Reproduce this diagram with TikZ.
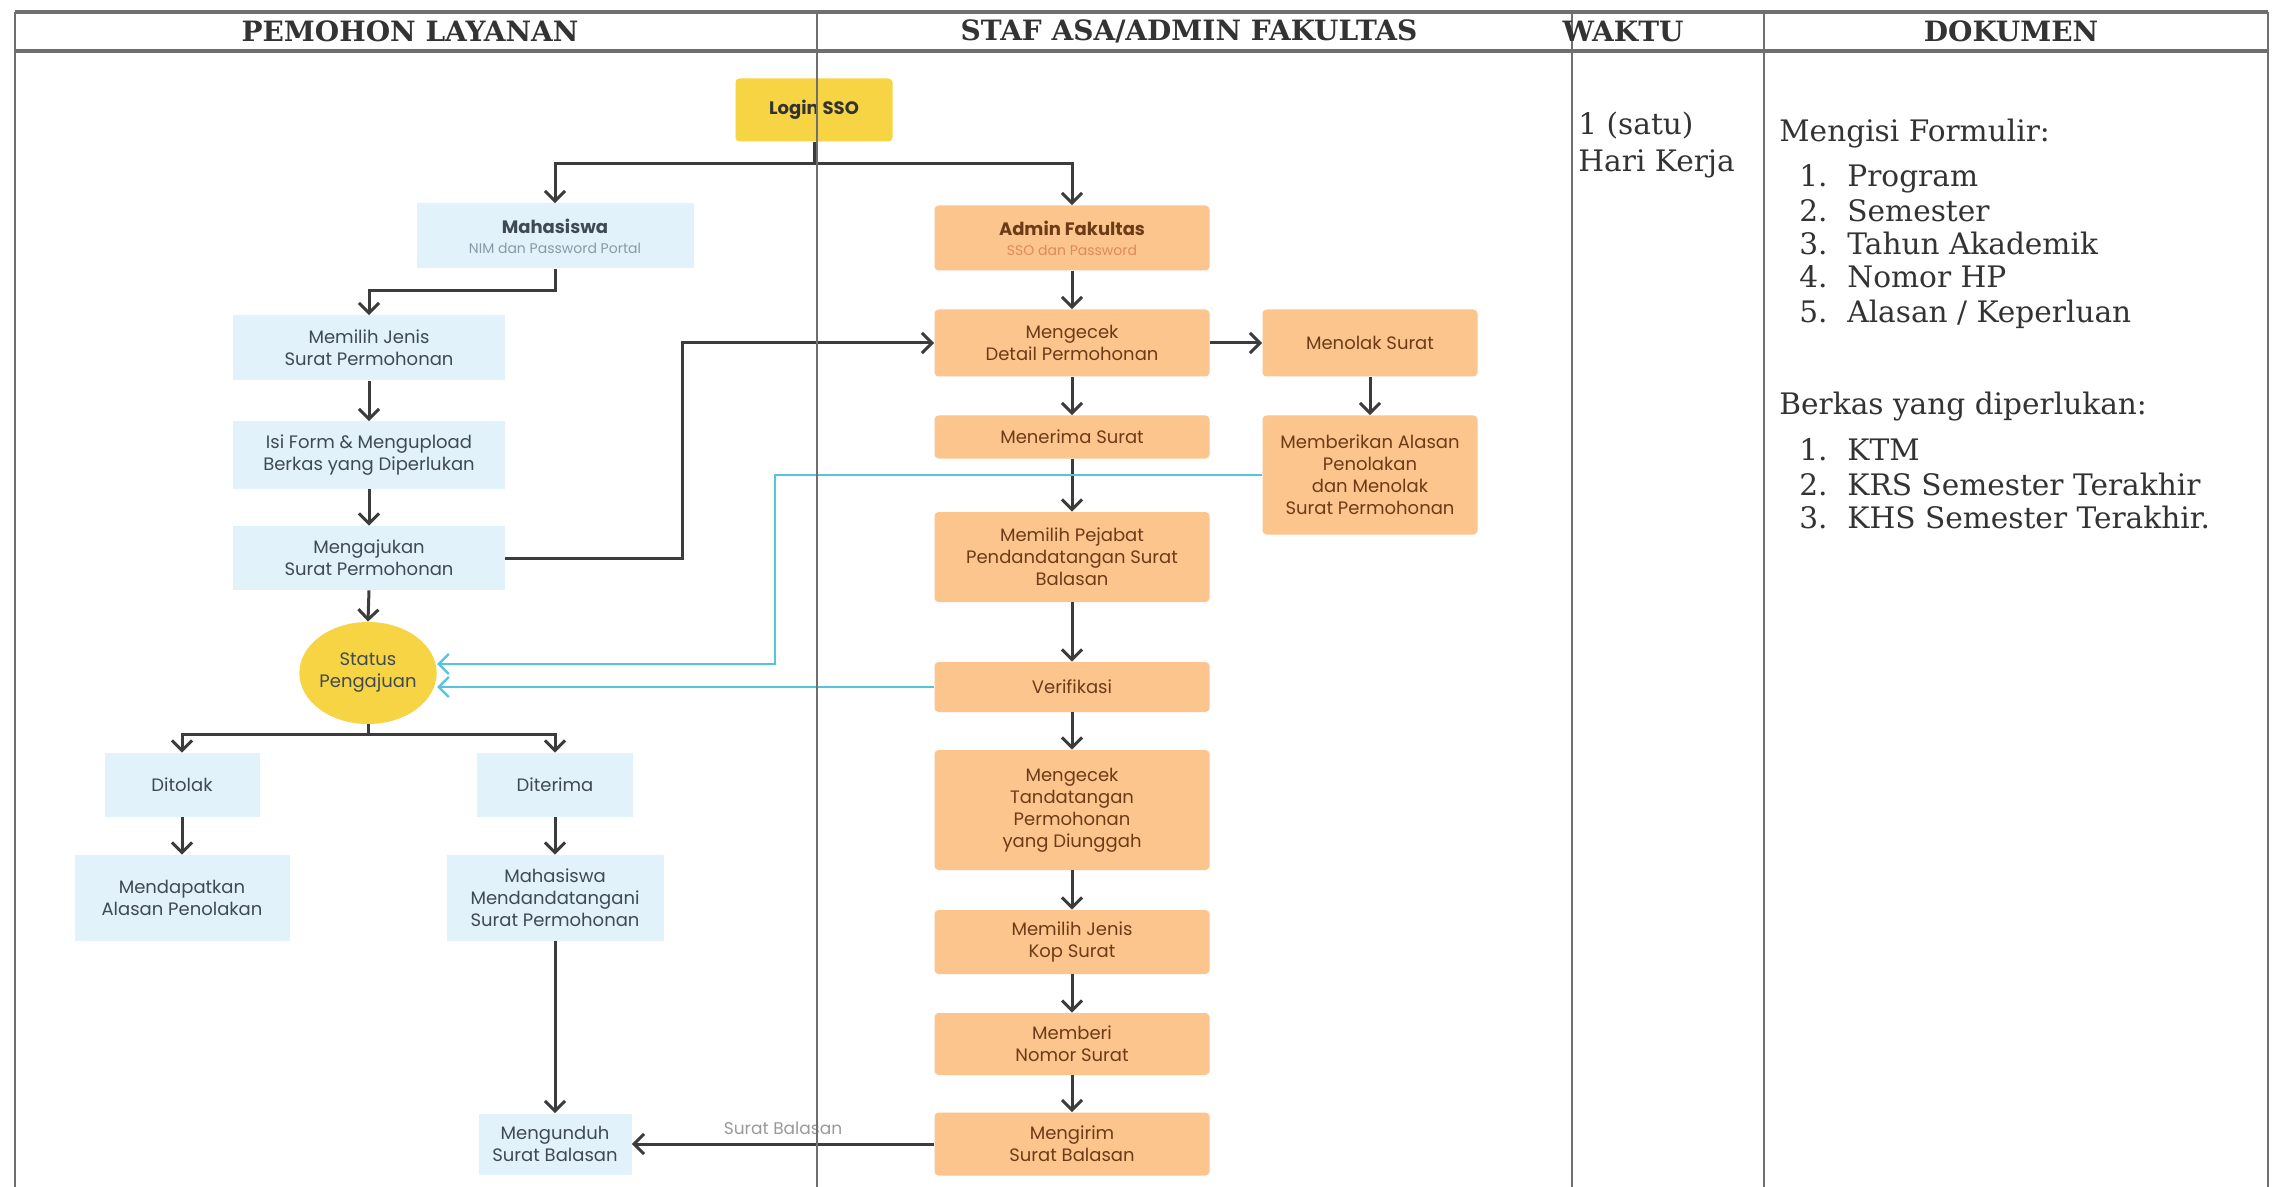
\documentclass[tikz,border=0pt]{standalone}
\usepackage{fontspec}
\setmainfont{DejaVu Serif}
\newfontfamily\pop{Poppins}
\usetikzlibrary{arrows.meta,shapes.geometric}
\definecolor{bluefill}{HTML}{E1F2FA}
\definecolor{orangefill}{HTML}{FBC58D}
\definecolor{yellowfill}{HTML}{F7D444}
\definecolor{orangetext}{HTML}{6E3B17}
\definecolor{bluetext}{HTML}{3F4A52}
\definecolor{subgray}{HTML}{8A9AA4}
\definecolor{suborange}{HTML}{E0895A}
\definecolor{arrowc}{HTML}{3C3C3C}
\definecolor{cyanc}{HTML}{55C5DE}
\definecolor{gridc}{HTML}{6F6F6F}
\definecolor{textc}{HTML}{333333}
\definecolor{lblc}{HTML}{9A9A9A}
\tikzset{
  sz/.style 2 args={minimum width=#1*0.5pt, minimum height=#2*0.5pt},
  nodebase/.style={inner sep=0pt, align=center, font=\pop\fontsize{9}{11}\selectfont},
  bluebox/.style={nodebase, fill=bluefill, text=bluetext},
  orangebox/.style={nodebase, fill=orangefill, text=orangetext, rounded corners=2pt},
  yellowbox/.style={nodebase, fill=yellowfill, text=textc, rounded corners=2pt},
  statusnode/.style={nodebase, ellipse, fill=yellowfill, text=bluetext},
  ln/.style={draw=arrowc, line width=1.5pt},
  arr/.style={ln, -{Straight Barb[length=5pt,width=10pt]}},
  carr/.style={draw=cyanc, line width=1.2pt, -{Straight Barb[length=5pt,width=10pt]}},
  lbl/.style={font=\pop\fontsize{8.5}{10}\selectfont, text=lblc, inner sep=1pt},
  headtxt/.style={font=\bfseries\fontsize{14}{16}\selectfont, text=textc, inner sep=0pt},
  doctxt/.style={font=\fontsize{14.8}{17}\selectfont, text=textc, inner sep=0pt, anchor=base west},
  gridthin/.style={draw=gridc, line width=0.8pt},
  gridthick/.style={draw=gridc, line width=1.6pt}
}
\begin{document}
\begin{tikzpicture}[x=0.5pt,y=-0.5pt]
\useasboundingbox (0,0) rectangle (2280,1187);
\fill[white] (0,0) rectangle (2280,1187);

% --- Pemohon layanan column ---
\node[yellowbox, sz={157}{63}] (login) at (814,110) {\bfseries Login SSO};
\node[bluebox, sz={277}{65}] (maha) at (555,236) {{\bfseries Mahasiswa}\\[-1pt]{\fontsize{7}{8}\selectfont\color{subgray}NIM dan Password Portal}};
\node[bluebox, sz={272}{65}] (pilih) at (369,348) {Memilih Jenis\\Surat Permohonan};
\node[bluebox, sz={272}{67}] (isi) at (369,455) {Isi Form \& Mengupload\\Berkas yang Diperlukan};
\node[bluebox, sz={272}{64}] (ajukan) at (369,558) {Mengajukan\\Surat Permohonan};
\node[statusnode, sz={132}{102}] (status) at (368,673) {Status\\Pengajuan};
\node[bluebox, sz={155}{64}] (tolak) at (182,785) {Ditolak};
\node[bluebox, sz={156}{64}] (terima) at (555,785) {Diterima};
\node[bluebox, sz={215}{86}] (alasanp) at (182,898) {Mendapatkan\\Alasan Penolakan};
\node[bluebox, sz={217}{86}] (ttdmhs) at (555,898) {Mahasiswa\\Mendandatangani\\Surat Permohonan};
\node[bluebox, sz={153}{61}] (unduh) at (555,1144) {Mengunduh\\Surat Balasan};

% --- Staf column ---
\node[orangebox, sz={275}{65}] (admin) at (1072,238) {{\bfseries Admin Fakultas}\\[-1pt]{\fontsize{7}{8}\selectfont\color{suborange}SSO dan Password}};
\node[orangebox, sz={275}{67}] (cek) at (1072,343) {Mengecek\\Detail Permohonan};
\node[orangebox, sz={215}{67}] (tolaksurat) at (1370,343) {Menolak Surat};
\node[orangebox, sz={215}{119}] (alasan) at (1370,475) {Memberikan Alasan\\Penolakan\\dan Menolak\\Surat Permohonan};
\node[orangebox, sz={275}{43}] (terimasurat) at (1072,437) {Menerima Surat};
\node[orangebox, sz={275}{90}] (pejabat) at (1072,557) {Memilih Pejabat\\Pendandatangan Surat\\Balasan};
\node[orangebox, sz={275}{50}] (verif) at (1072,687) {Verifikasi};
\node[orangebox, sz={275}{120}] (ttd) at (1072,810) {Mengecek\\Tandatangan\\Permohonan\\yang Diunggah};
\node[orangebox, sz={275}{64}] (kop) at (1072,942) {Memilih Jenis\\Kop Surat};
\node[orangebox, sz={275}{62}] (nomor) at (1072,1044) {Memberi\\Nomor Surat};
\node[orangebox, sz={275}{63}] (kirim) at (1072,1144) {Mengirim\\Surat Balasan};

% --- connectors ---
\coordinate (j1) at (814,164);
\draw[ln] (login.south) -- (j1);
\draw[arr] (j1) -| (maha.north);
\draw[arr] (j1) -| (admin.north);
\draw[arr] (maha.south) -- ++(0,22) -| (pilih.north);
\draw[arr] (pilih.south) -- (isi.north);
\draw[arr] (isi.south) -- (ajukan.north);
\draw[arr] (ajukan.south) -- (status.north);
\coordinate (j2) at (682,343);
\draw[arr] (ajukan.east) -| (j2) -- (cek.west);
\draw[arr] (admin.south) -- (cek.north);
\draw[arr] (cek.east) -- (tolaksurat.west);
\draw[arr] (tolaksurat.south) -- (alasan.north);
\draw[arr] (cek.south) -- (terimasurat.north);
\draw[arr] (terimasurat.south) -- (pejabat.north);
\draw[arr] (pejabat.south) -- (verif.north);
\draw[arr] (verif.south) -- (ttd.north);
\draw[arr] (ttd.south) -- (kop.north);
\draw[arr] (kop.south) -- (nomor.north);
\draw[arr] (nomor.south) -- (kirim.north);
\coordinate (c1) at (775,664);
\draw[carr] (alasan.west) -| (c1) -- (c1 -| status.east);
\draw[carr] (verif.west) -- (verif.west -| status.east);
\coordinate (j3) at (368,734);
\draw[ln] (status.south) -- (j3);
\draw[arr] (j3) -| (tolak.north);
\draw[arr] (j3) -| (terima.north);
\draw[arr] (tolak.south) -- (alasanp.north);
\draw[arr] (terima.south) -- (ttdmhs.north);
\draw[arr] (ttdmhs.south) -- (unduh.north);
\draw[arr] (kirim.west) -- node[lbl, above=3pt] (lblsb) {Surat Balasan} (unduh.east);

% --- right columns text ---
\node[doctxt] (w1) at (1578,135) {1 (satu)};
\node[doctxt] (w2) at (1578,172) {Hari Kerja};
\node[doctxt] (d1) at (1779,142) {Mengisi Formulir:};
\node[doctxt] (d1a) at (1799,187) {\makebox[24pt][l]{1.}Program};
\node[doctxt] (d1b) at (1799,222) {\makebox[24pt][l]{2.}Semester};
\node[doctxt] (d1c) at (1799,255) {\makebox[24pt][l]{3.}Tahun Akademik};
\node[doctxt] (d1d) at (1799,288) {\makebox[24pt][l]{4.}Nomor HP};
\node[doctxt] (d1e) at (1799,323) {\makebox[24pt][l]{5.}Alasan / Keperluan};
\node[doctxt] (d2) at (1779,415) {Berkas yang diperlukan:};
\node[doctxt] (d2a) at (1799,460) {\makebox[24pt][l]{1.}KTM};
\node[doctxt] (d2b) at (1799,495) {\makebox[24pt][l]{2.}KRS Semester Terakhir};
\node[doctxt] (d2c) at (1799,528) {\makebox[24pt][l]{3.}KHS Semester Terakhir.};

% --- table grid ---
\draw[gridthick] (15,12) -- (2268,12);
\draw[gridthick] (15,51) -- (2268,51);
\foreach \gx in {15,817,1572,1764,2268} {\draw[gridthin] (\gx,12) -- (\gx,1187);}
\node[headtxt] (h1) at (410,31) {PEMOHON LAYANAN};
\node[headtxt] (h2) at (1189,31) {STAF ASA/ADMIN FAKULTAS};
\node[headtxt] (h3) at (1623,31) {WAKTU};
\node[headtxt] (h4) at (2011,31) {DOKUMEN};
\end{tikzpicture}
\end{document}
